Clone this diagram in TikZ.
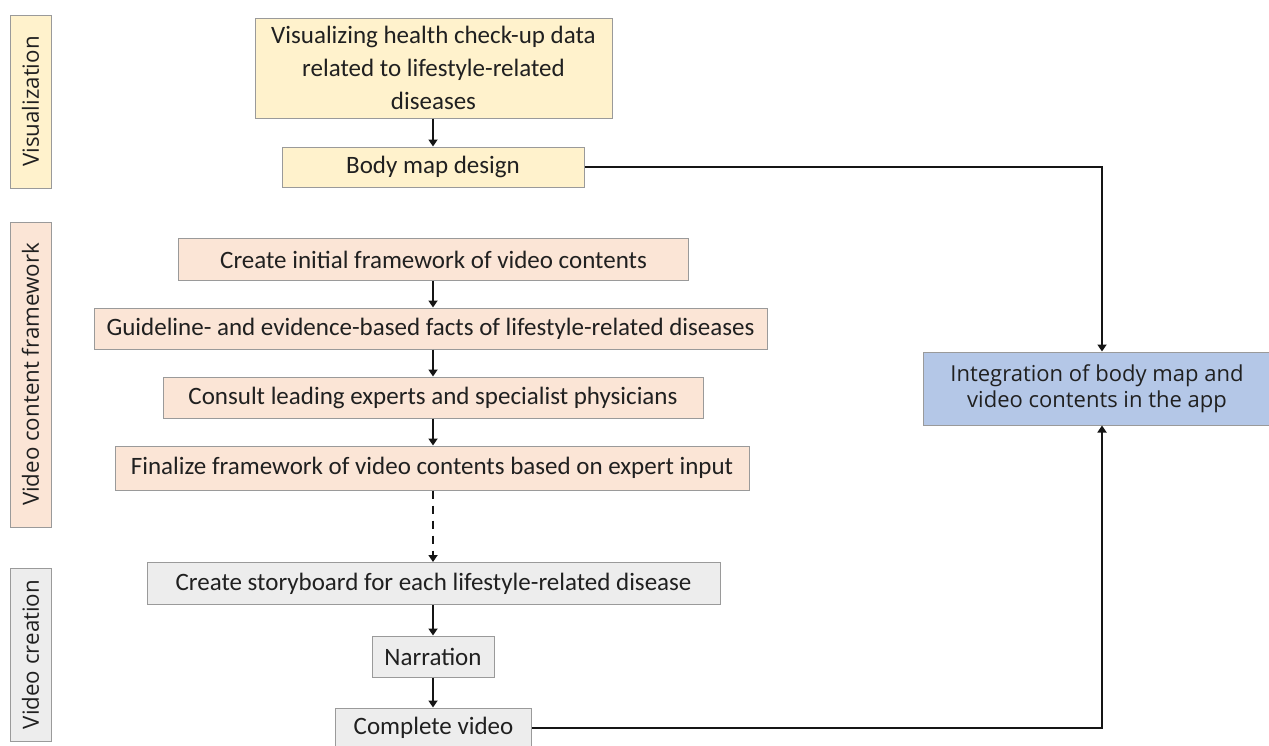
\documentclass[tikz,border=0pt]{standalone}
\usepackage{fontspec}
\setmainfont{Carlito}
\newfontfamily\labfont{Open Sans}
\usetikzlibrary{arrows.meta,positioning}
\definecolor{yel}{HTML}{FFF2CC}
\definecolor{pnk}{HTML}{FBE5D6}
\definecolor{gry}{HTML}{EDEDED}
\definecolor{blu}{HTML}{B4C7E7}
\definecolor{bord}{HTML}{9A9A9A}
\definecolor{txt}{HTML}{202020}
\definecolor{conn}{HTML}{151515}
\tikzset{
  box/.style={draw=bord, line width=1pt, inner sep=0pt, align=center, text=txt,
    font=\fontsize{25}{33}\selectfont},
  yelbox/.style={box, fill=yel},
  pnkbox/.style={box, fill=pnk},
  grybox/.style={box, fill=gry},
  blubox/.style={box, fill=blu, font=\labfont\fontsize{22}{26}\selectfont},
  lab/.style={draw=bord, line width=1pt, inner sep=0pt, rotate=90, text=txt,
    font=\labfont\fontsize{22.3}{26}\selectfont, minimum height=41pt},
  conn/.style={draw=conn, line width=2.5pt, -{Triangle[width=9pt,length=7pt]}},
  connd/.style={conn, dash pattern=on 8pt off 7pt},
}
\begin{document}
\begin{tikzpicture}[x=1pt,y=-1pt]
\useasboundingbox (0,0) rectangle (1269,745);
% labels
\node[lab, fill=yel, minimum width=173pt] (lv) at (30.5,101.5) {Visualization};
\node[lab, fill=pnk, minimum width=305pt] (lf) at (30.5,374.5) {Video content framework};
\node[lab, fill=gry, minimum width=173pt] (lc) at (30.5,654.5) {Video creation};
% column coordinate
\coordinate (col) at (433,0);
\coordinate (vx) at (1102,0);
% boxes
\node[yelbox, minimum width=357pt, minimum height=100pt] (top) at (433.5,68) {Visualizing health check-up data\\related to lifestyle-related\\diseases};
\node[yelbox, minimum width=302pt, minimum height=40pt] (bm) at (433,167) {Body map design};
\node[pnkbox, minimum width=510pt, minimum height=42pt] (ci) at (433.5,259.5) {Create initial framework of video contents};
\node[pnkbox, minimum width=673pt, minimum height=41pt] (gl) at (430.5,328.5) {Guideline- and evidence-based facts of lifestyle-related diseases};
\node[pnkbox, minimum width=540pt, minimum height=41pt] (cs) at (433,397.5) {Consult leading experts and specialist physicians};
\node[pnkbox, minimum width=634pt, minimum height=44pt] (fn) at (432,468) {Finalize framework of video contents based on expert input};
\node[grybox, minimum width=573pt, minimum height=42pt] (sb) at (433.5,583.5) {Create storyboard for each lifestyle-related disease};
\node[grybox, minimum width=122pt, minimum height=41pt] (nr) at (433,656.5) {Narration};
\node[grybox, minimum width=196pt, minimum height=40pt] (cv) at (433.5,728) {Complete video};
\node[blubox, minimum width=348pt, minimum height=73pt] (ap) at (1097,388.5) {Integration of body map and\\video contents in the app};
% connectors
\draw[conn] (top.south -| col) -- (bm.north -| col);
\draw[conn] (ci.south -| col) -- (gl.north -| col);
\draw[conn] (gl.south -| col) -- (cs.north -| col);
\draw[conn] (cs.south -| col) -- (fn.north -| col);
\draw[connd] (fn.south -| col) -- (sb.north -| col);
\draw[conn] (sb.south -| col) -- (nr.north -| col);
\draw[conn] (nr.south -| col) -- (cv.north -| col);
\draw[conn] (bm.east) -| (ap.north -| vx);
\draw[conn] (cv.east) -| (ap.south -| vx);
\end{tikzpicture}
\end{document}
